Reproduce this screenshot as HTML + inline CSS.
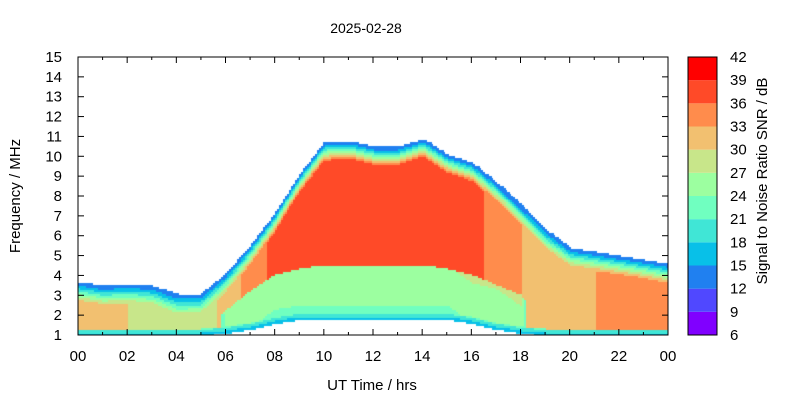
<!DOCTYPE html>
<html><head><meta charset="utf-8"><style>
body{margin:0;background:#fff;width:800px;height:400px;overflow:hidden;position:relative;font-family:"Liberation Sans",sans-serif}
canvas{position:absolute;left:78px;top:57px}
svg{position:absolute;left:0;top:0}
</style></head><body>
<canvas id="hm" width="590" height="278"></canvas>
<svg id="ax" width="800" height="400"></svg>
<script>
// hourly samples 00..24
const hours=[0,1,2,3,4,5,6,7,8,9,10,11,12,13,14,15,16,17,18,19,20,21,22,23,24];
const topFreq=[3.6,3.4,3.5,3.4,3.0,3.0,4.0,5.4,7.0,9.0,10.6,10.7,10.4,10.4,10.8,10.0,9.6,8.6,7.4,6.2,5.3,5.1,4.9,4.7,4.5];
const lowFreq=[1.0,1.0,1.0,1.0,1.0,1.0,1.1,1.3,1.6,1.8,1.8,1.8,1.8,1.8,1.8,1.8,1.6,1.3,1.1,1.0,1.0,1.0,1.0,1.0,1.0];
const peakSnr=[31,31,30,29,27,28,31,34,37,38,38,38,38,38,38,38,37,35,33,31,32,33,34,34,33];
const absorbTop=[1,1,1,1,1,1,2.2,3.2,4.0,4.3,4.5,4.5,4.5,4.5,4.5,4.3,4.0,3.5,3.0,1,1,1,1,1,1];
const absorbSnr=[0,0,0,0,0,0,24,24,23,23,23,23,23,23,23,23,24,24,25,0,0,0,0,0,0];
const colorBands=["#8000ff","#5048ff","#2080f0","#08c0e8","#40e6d6","#70ffc0","#9cffa0","#c8e68a","#f2c070","#ff8c4c","#ff4a28","#ff0000"];
const snrTicks=[6,9,12,15,18,21,24,27,30,33,36,39,42];
const xTickLabels=["00","02","04","06","08","10","12","14","16","18","20","22","00"];
const yTicks=[1,2,3,4,5,6,7,8,9,10,11,12,13,14,15];

const X0=78,X1=668,Y0=335,Y1=57;
const xs=h=>X0+h/24*(X1-X0);
const ys=f=>Y0-(f-1)/14*(Y0-Y1);
function interp(arr,h){const i=Math.min(23,Math.floor(h));const t=h-i;return arr[i]*(1-t)+arr[i+1]*t;}
function col(s){let k=Math.floor((s-6)/3);k=Math.max(2,Math.min(11,k));return colorBands[k];}

const ctx=document.getElementById('hm').getContext('2d');
const dh=24/295, df=0.1;
for(let h=0;h<24;h+=dh){
  const top=interp(topFreq,h),low=interp(lowFreq,h),pk=interp(peakSnr,h);
  const at=interp(absorbTop,h),as=interp(absorbSnr,h);
  for(let f=1;f<15;f+=df){
    if(f<low-0.05||f>top)continue;
    let s=pk;
    const d=top-f;
    if(d<0.9)s=12+(pk-12)*d/0.9;
    if(f<at&&as>=20)s=Math.min(s,as+(f-low)*1.5);
    if(f-low<0.3)s=Math.min(s,16+Math.max(0,f-low)*20);
    ctx.fillStyle=col(s);
    const x=xs(h)-X0,y=ys(f+df)-Y1;
    ctx.fillRect(Math.floor(x),Math.floor(y),Math.ceil(xs(h+dh)-xs(h))+1,Math.ceil(ys(f)-ys(f+df))+1);
  }
}

const svg=document.getElementById('ax');const NS='http://www.w3.org/2000/svg';
function el(tag,attrs,txt){const e=document.createElementNS(NS,tag);for(const k in attrs)e.setAttribute(k,attrs[k]);if(txt!==undefined)e.textContent=txt;svg.appendChild(e);return e;}
let e;
e=el('rect',{x:X0,y:Y1,width:X1-X0,height:Y0-Y1,fill:'none',stroke:'#000','stroke-width':1});


for(let h=0;h<=24;h++){
  const len=h%2===0?6:3;
  el('line',{x1:xs(h),x2:xs(h),y1:Y0,y2:Y0-len,stroke:'#000'});
  el('line',{x1:xs(h),x2:xs(h),y1:Y1,y2:Y1+len,stroke:'#000'});
}
xTickLabels.forEach((l,i)=>{
  e=el('text',{x:xs(i*2),y:361,'text-anchor':'middle','font-size':15,fill:'#000'},l);
  
  
});
yTicks.forEach(v=>{
  el('line',{x1:X0,x2:X0+6,y1:ys(v),y2:ys(v),stroke:'#000'});
  el('line',{x1:X1,x2:X1-6,y1:ys(v),y2:ys(v),stroke:'#000'});
  e=el('text',{x:62,y:ys(v)+5,'text-anchor':'end','font-size':15,fill:'#000'},v);
  
  
});
const CX=688,CW=29;
colorBands.forEach((c,i)=>{
  const yA=Y0-(i+1)/12*(Y0-Y1),yB=Y0-i/12*(Y0-Y1);
  e=el('rect',{x:CX,y:yA,width:CW,height:yB-yA,fill:c});
  
  
});
el('rect',{x:CX,y:Y1,width:CW,height:Y0-Y1,fill:'none',stroke:'#000'});
snrTicks.forEach((v,i)=>{
  const y=Y0-i/12*(Y0-Y1);
  e=el('text',{x:730,y:y+5,'font-size':15,fill:'#000'},v);
  
  
});
e=el('text',{x:366,y:33,'text-anchor':'middle','font-size':14,fill:'#000'},'2025-02-28');


e=el('text',{x:372,y:390,'text-anchor':'middle','font-size':15,fill:'#000'},'UT Time / hrs');


e=el('text',{x:0,y:0,'text-anchor':'middle','font-size':15,fill:'#000',transform:'translate(20,196) rotate(-90)'},'Frequency / MHz');


e=el('text',{x:0,y:0,'text-anchor':'middle','font-size':15,fill:'#000',transform:'translate(767,181) rotate(-90)'},'Signal to Noise Ratio SNR / dB');


</script>
</body></html>
